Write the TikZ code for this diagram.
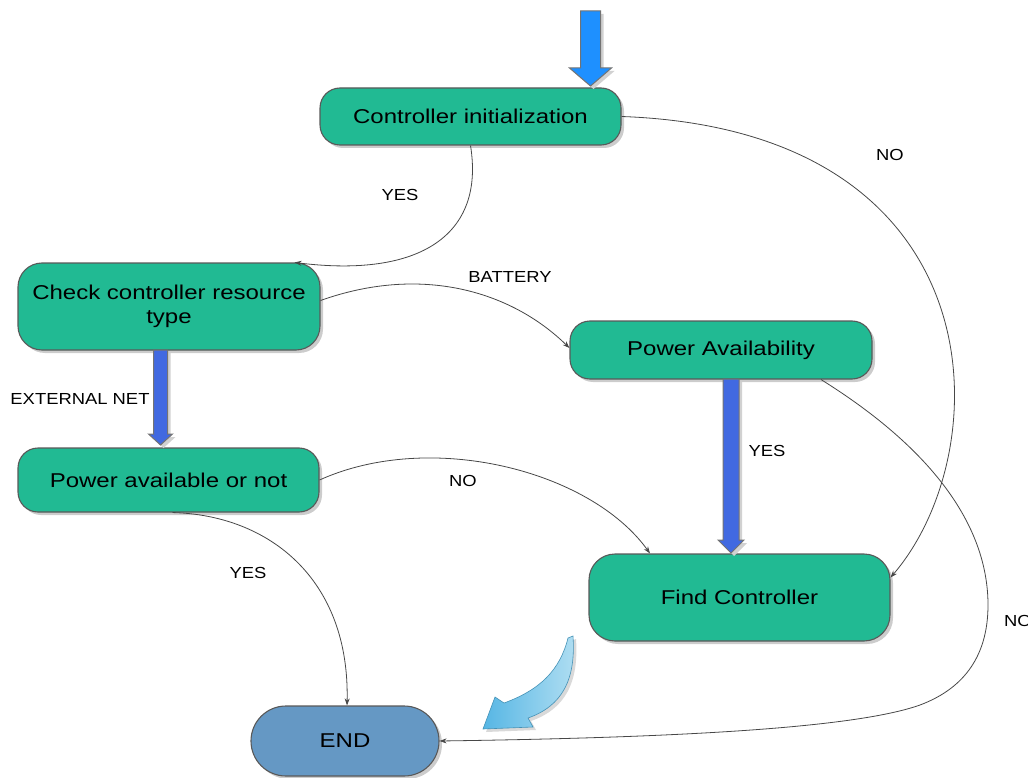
\documentclass[tikz,border=0pt]{standalone}
\usepackage{fontspec}
\setmainfont{Liberation Sans}[FakeStretch=1.2]
\newfontfamily\lblfont{Liberation Sans}[FakeStretch=1.15]
\usetikzlibrary{arrows.meta,shadows,calc}
\definecolor{boxgreen}{RGB}{33,186,147}
\definecolor{endblue}{RGB}{101,152,196}
\definecolor{topblue}{RGB}{30,144,255}
\definecolor{royal}{RGB}{65,105,225}
\definecolor{lightA}{RGB}{86,182,228}
\definecolor{lightB}{RGB}{176,222,242}
\newcommand\downarr[7]{%
  \path[fill=black!18] ({#1-#4+3},{#2+3}) -- ({#1+#4+3},{#2+3}) -- ({#1+#4+3},{#3-#6+3}) -- ({#1+#5+3},{#3-#6+3}) -- ({#1+3},{#3+3}) -- ({#1-#5+3},{#3-#6+3}) -- ({#1-#4+3},{#3-#6+3}) -- cycle;
  \path[fill=#7,draw=black!55,line width=1pt,line join=miter] ({#1-#4},{#2}) -- ({#1+#4},{#2}) -- ({#1+#4},{#3-#6}) -- ({#1+#5},{#3-#6}) -- ({#1},{#3}) -- ({#1-#5},{#3-#6}) -- ({#1-#4},{#3-#6}) -- cycle;}
\tikzset{
  box/.style={draw=black!65,line width=1.1pt,fill=boxgreen,rounded corners=20pt,
    align=center,inner sep=0pt,font=\fontsize{20}{24}\selectfont,
    drop shadow={shadow xshift=3pt,shadow yshift=-3pt,fill=black!20,opacity=1}},
  conn/.style={draw=black!72,line width=0.8pt,-{Stealth[length=7pt,width=5pt]}},
  lbl/.style={font=\lblfont\fontsize{16}{19}\selectfont,inner sep=0pt}
}
\begin{document}
\begin{tikzpicture}[x=1pt,y=-1pt]
\useasboundingbox (0,0) rectangle (1028,778);
% nodes
\node[box,minimum width=301pt,minimum height=57pt] (ci) at (470.5,116.5) {Controller initialization};
\node[box,minimum width=302pt,minimum height=87pt,rounded corners=24pt] (cc) at (169,306.5) {Check controller resource\\type};
\node[box,minimum width=302pt,minimum height=58pt] (pa) at (721,350) {Power Availability};
\node[box,minimum width=301pt,minimum height=64pt] (pn) at (168.5,480) {Power available or not};
\node[box,minimum width=301pt,minimum height=87pt,rounded corners=26pt] (fc) at (739.5,597.5) {Find Controller};
\node[box,fill=endblue,minimum width=188pt,minimum height=70pt,rounded corners=34.9pt] (en) at (345,741) {END};
% block arrows
\downarr{590.5}{11}{86}{10}{21}{18}{topblue}
\downarr{160.5}{350}{445}{7}{12}{11}{royal}
\downarr{731}{379}{553}{8}{13}{13}{royal}
% curved light-blue arrow
\path[fill=black!15,shift={(3,3)}] (568,638) -- (573,636) .. controls (576,680) and (562,706) .. (528,718) -- (533,727) -- (483,729) -- (495,697) -- (504,703) .. controls (540,690) and (560,670) .. (568,638) -- cycle;
\shade[left color=lightA,right color=lightB,draw=lightA!80!black,line width=0.6pt] (568,638) -- (573,636) .. controls (576,680) and (562,706) .. (528,718) -- (533,727) -- (483,729) -- (495,697) -- (504,703) .. controls (540,690) and (560,670) .. (568,638) -- cycle;
% connectors
\draw[conn] (ci.south) .. controls (485,235) and (420,278) .. ([xshift=-26pt]cc.north east);
\draw[conn] (ci.east) .. controls (1000,130) and (1000,450) .. ([yshift=20pt]fc.east);
\draw[conn] ([yshift=6pt]cc.east) .. controls (420,265) and (510,290) .. ([yshift=2pt]pa.west);
\draw[conn] (pn.east) .. controls (430,430) and (590,470) .. ([xshift=-89.5pt]fc.north);
\draw[conn] ([xshift=4pt]pn.south) .. controls (270,515) and (350,580) .. ([xshift=2pt]en.north);
\draw[conn] ([xshift=100pt]pa.south) .. controls (950,460) and (988,540) .. (988,605) .. controls (988,660) and (960,690) .. (920,705) .. controls (850,730) and (650,738) .. (en.east);
% labels
\node[lbl] (l1) at (400,195) {YES};
\node[lbl] (l2) at (890,155) {NO};
\node[lbl] (l3) at (510,277) {BATTERY};
\node[lbl] (l4) at (80,399) {EXTERNAL NET};
\node[lbl] (l5) at (767,451) {YES};
\node[lbl] (l6) at (463,481) {NO};
\node[lbl] (l7) at (248,573) {YES};
\node[lbl,anchor=west] (l8) at (1004,621) {NO};
\end{tikzpicture}
\end{document}
